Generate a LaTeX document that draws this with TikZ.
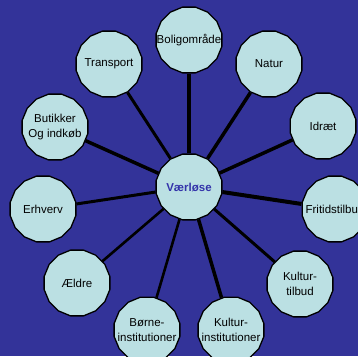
\documentclass[tikz,border=0pt]{standalone}
\usepackage{fontspec}
\setmainfont{Liberation Sans}
\usetikzlibrary{shapes.geometric}
\definecolor{bgblue}{HTML}{333399}
\definecolor{cfill}{HTML}{BBE0E3}
\definecolor{ctext}{HTML}{3333AA}
\begin{document}
\begin{tikzpicture}[x=1pt,y=-1pt,
  bubble/.style={regular polygon,regular polygon sides=16,minimum size=67pt,inner sep=0pt,
    draw=black,line width=1.3pt,fill=cfill,
    label={[font=\fontsize{11.5}{15.5}\selectfont,align=center,inner sep=0pt]center:#1}},
  spoke/.style={line width=3.3pt,black}]
\useasboundingbox (0,0) rectangle (358,356);
\fill[bgblue] (0,0) rectangle (358,356);
\clip (0,0) rectangle (358,356);
\node[bubble={\textcolor{ctext}{\bfseries Værløse}}] (c) at (189,187) {};
\node[bubble={Boligområde}] (bol) at (189,40) {};
\node[bubble={Transport}] (tra) at (109,64) {};
\node[bubble={Natur}] (nat) at (269,64) {};
\node[bubble={Butikker\\Og indkøb}] (but) at (55,127) {};
\node[bubble={Idræt}] (idr) at (323,126) {};
\node[bubble={Erhverv}] (erh) at (43,209) {};
\node[bubble={Fritidstilbud}] (fri) at (335,209) {};
\node[bubble={Ældre}] (ael) at (77,283) {};
\node[bubble={Kultur-\\tilbud}] (kt) at (300,284) {};
\node[bubble={Børne-\\institutioner}] (bi) at (147,330) {};
\node[bubble={Kultur-\\institutioner}] (ki) at (231,330) {};
\draw[spoke,line width=4pt] (c) -- (bol);
\draw[spoke,line width=3pt] (c) -- (tra);
\draw[spoke,line width=3.5pt] (c) -- (nat);
\draw[spoke,line width=3.5pt] (c) -- (but);
\draw[spoke,line width=3.5pt] (c) -- (idr);
\draw[spoke,line width=3pt] (c) -- (erh);
\draw[spoke,line width=4pt] (c) -- (fri);
\draw[spoke,line width=2.6pt] (c) -- (ael);
\draw[spoke,line width=3pt] (c) -- (kt);
\draw[spoke,line width=2.6pt] (c) -- (bi);
\draw[spoke,line width=3.5pt] (c) -- (ki);
\end{tikzpicture}
\end{document}
